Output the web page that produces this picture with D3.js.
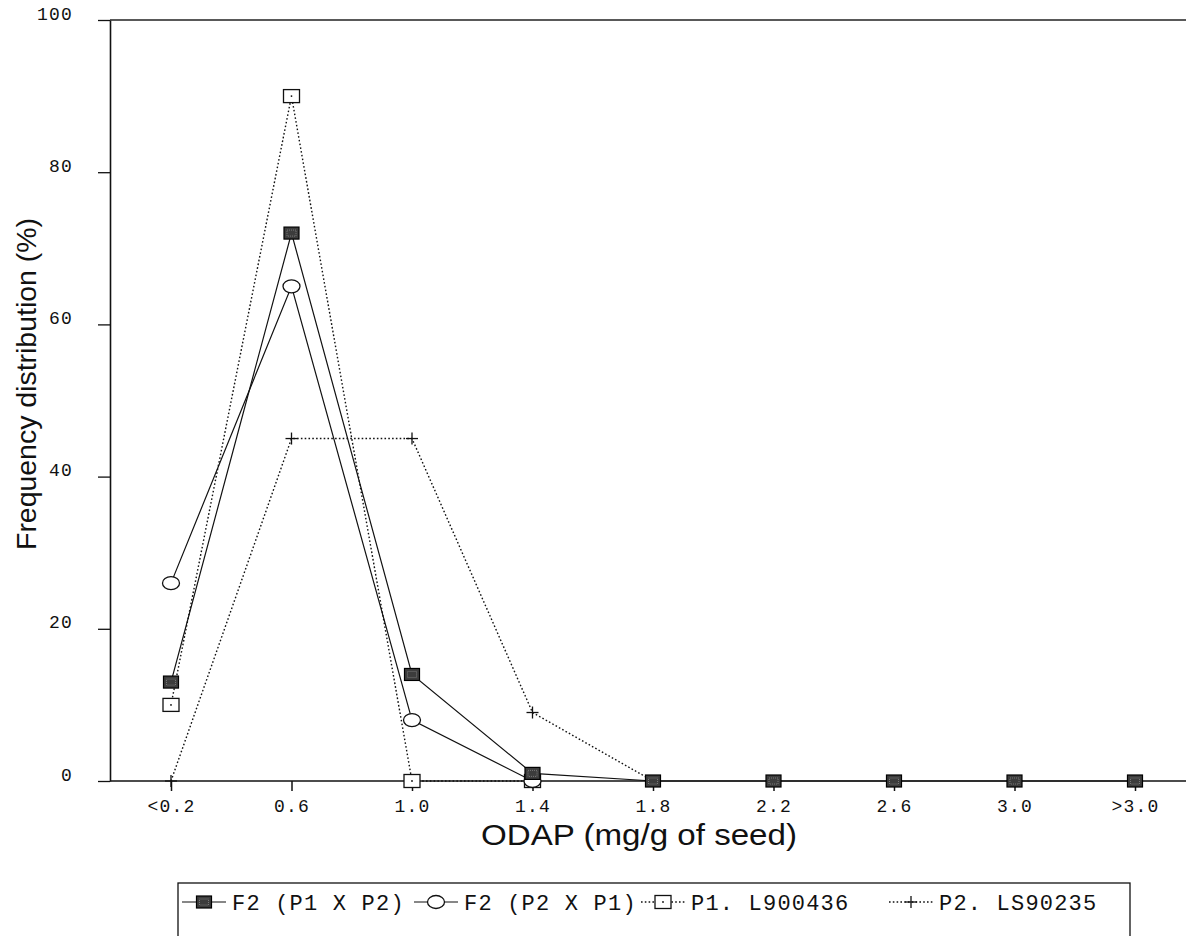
<!DOCTYPE html>
<html>
<head>
<meta charset="utf-8">
<script src="https://cdn.jsdelivr.net/npm/d3@7"></script>
<style>
  html, body { margin: 0; padding: 0; background: #fff; }
  svg { display: block; }
  .tick text { font-family: "Liberation Mono", "Courier New", monospace; font-size: 18px; letter-spacing: 1.2px; fill: #111; }
</style>
</head>
<body>
<svg id="chart" width="1186" height="936"></svg>
<script>
// ODAP content classes (mg/g of seed)
const categories = ["<0.2", "0.6", "1.0", "1.4", "1.8", "2.2", "2.6", "3.0", ">3.0"];
const yTicks = [0, 20, 40, 60, 80, 100];

// Frequency distribution (%) for each population
const f2P1xP2 = [13, 72, 14, 1, 0, 0, 0, 0, 0];
const f2P2xP1 = [26, 65, 8, 0];
const p1L900436 = [10, 90, 0, 0];
const p2LS90235 = [0, 45, 45, 9, 0];

const series = [
  { name: "F2 (P1 X P2)", values: f2P1xP2, dash: null, marker: "filled" },
  { name: "F2 (P2 X P1)", values: f2P2xP1, dash: null, marker: "circle" },
  { name: "P1. L900436", values: p1L900436, dash: "1.6,2.2", marker: "square" },
  { name: "P2. LS90235", values: p2LS90235, dash: "1.6,2.2", marker: "plus" }
];

const svg = d3.select("#chart");
const plotLeft = 110, plotTop = 20, plotBottom = 781, plotRightEdge = 1186;

const x = d3.scalePoint().domain(categories).range([171, 1135]);
const y = d3.scaleLinear().domain([0, 100]).range([plotBottom, plotTop]);

// Frame: top line and baseline run to the right edge
svg.append("line").attr("x1", plotLeft).attr("x2", plotRightEdge).attr("y1", plotTop).attr("y2", plotTop)
  .attr("stroke", "#222").attr("stroke-width", 1.3);
svg.append("line").attr("x1", plotLeft).attr("x2", plotRightEdge).attr("y1", plotBottom).attr("y2", plotBottom)
  .attr("stroke", "#111").attr("stroke-width", 1.6);

// Y axis
const yAxis = svg.append("g").attr("transform", `translate(${plotLeft},0)`)
  .call(d3.axisLeft(y).tickValues(yTicks).tickSize(12).tickSizeOuter(0).tickPadding(25));
yAxis.select(".domain").attr("stroke", "#111").attr("stroke-width", 1.6);
yAxis.selectAll(".tick line").attr("stroke", "#111").attr("stroke-width", 1.3);
yAxis.selectAll(".tick text").attr("dy", "-0.05em");

// X axis
const xAxis = svg.append("g").attr("transform", `translate(0,${plotBottom})`)
  .call(d3.axisBottom(x).tickSize(10).tickSizeOuter(0).tickPadding(8));
xAxis.select(".domain").remove();
xAxis.selectAll(".tick line").attr("stroke", "#111").attr("stroke-width", 1.5);

// Axis titles
svg.append("text").attr("x", 639).attr("y", 845).attr("text-anchor", "middle")
  .attr("font-family", "Liberation Sans, Arial, sans-serif").attr("font-size", 29).attr("fill", "#111")
  .attr("textLength", 316).attr("lengthAdjust", "spacingAndGlyphs")
  .text("ODAP (mg/g of seed)");
svg.append("text").attr("transform", "translate(36,384) rotate(-90)").attr("text-anchor", "middle")
  .attr("font-family", "Liberation Sans, Arial, sans-serif").attr("font-size", 28).attr("fill", "#111")
  .attr("textLength", 332).attr("lengthAdjust", "spacingAndGlyphs")
  .text("Frequency distribution (%)");

// Marker drawing
function drawMarker(g, type, cx, cy) {
  if (type === "filled") {
    g.append("rect").attr("x", cx - 7.5).attr("y", cy - 6).attr("width", 15).attr("height", 12)
      .attr("fill", "#3c3c3c").attr("stroke", "#000").attr("stroke-width", 1.2);
    g.append("rect").attr("x", cx - 4.5).attr("y", cy - 3).attr("width", 9).attr("height", 6)
      .attr("fill", "none").attr("stroke", "#888").attr("stroke-width", 0.8).attr("stroke-dasharray", "1,1");
  } else if (type === "circle") {
    g.append("ellipse").attr("cx", cx).attr("cy", cy).attr("rx", 8.5).attr("ry", 6.5)
      .attr("fill", "#fff").attr("stroke", "#111").attr("stroke-width", 1.3);
  } else if (type === "square") {
    g.append("rect").attr("x", cx - 8).attr("y", cy - 6.5).attr("width", 16).attr("height", 13)
      .attr("fill", "#fff").attr("stroke", "#111").attr("stroke-width", 1.3);
    g.append("circle").attr("cx", cx).attr("cy", cy).attr("r", 0.9).attr("fill", "#111");
  } else if (type === "plus") {
    g.append("line").attr("x1", cx - 6).attr("x2", cx + 6).attr("y1", cy).attr("y2", cy)
      .attr("stroke", "#111").attr("stroke-width", 1.3);
    g.append("line").attr("x1", cx).attr("x2", cx).attr("y1", cy - 6).attr("y2", cy + 6)
      .attr("stroke", "#111").attr("stroke-width", 1.3);
  }
}

const line = d3.line().x((d, i) => x(categories[i])).y(d => y(d));

// Draw in back-to-front order so the filled squares sit on top
const order = [3, 2, 1, 0];
order.forEach(si => {
  const s = series[si];
  svg.append("path").datum(s.values).attr("d", line)
    .attr("fill", "none").attr("stroke", "#111")
    .attr("stroke-width", s.dash ? 1.4 : 1.2)
    .attr("stroke-dasharray", s.dash);
});
order.forEach(si => {
  const s = series[si];
  const g = svg.append("g");
  s.values.forEach((v, i) => drawMarker(g, s.marker, x(categories[i]), y(v)));
});

// Legend
const legend = svg.append("g");
legend.append("rect").attr("x", 178).attr("y", 883).attr("width", 952).attr("height", 80)
  .attr("fill", "#fff").attr("stroke", "#111").attr("stroke-width", 1.3);
const legendX = [182, 414, 641, 889];
series.forEach((s, i) => {
  const lx = legendX[i], ly = 902;
  legend.append("line").attr("x1", lx).attr("x2", lx + 44).attr("y1", ly).attr("y2", ly)
    .attr("stroke", "#111").attr("stroke-width", s.dash ? 1.4 : 1.2).attr("stroke-dasharray", s.dash);
  drawMarker(legend, s.marker, lx + 22, ly);
  legend.append("text").attr("x", lx + 50).attr("y", 910)
    .attr("font-family", "Liberation Mono, Courier New, monospace").attr("font-size", 22)
    .attr("letter-spacing", 1.2).attr("fill", "#111")
    .text(s.name);
});
</script>
</body>
</html>
